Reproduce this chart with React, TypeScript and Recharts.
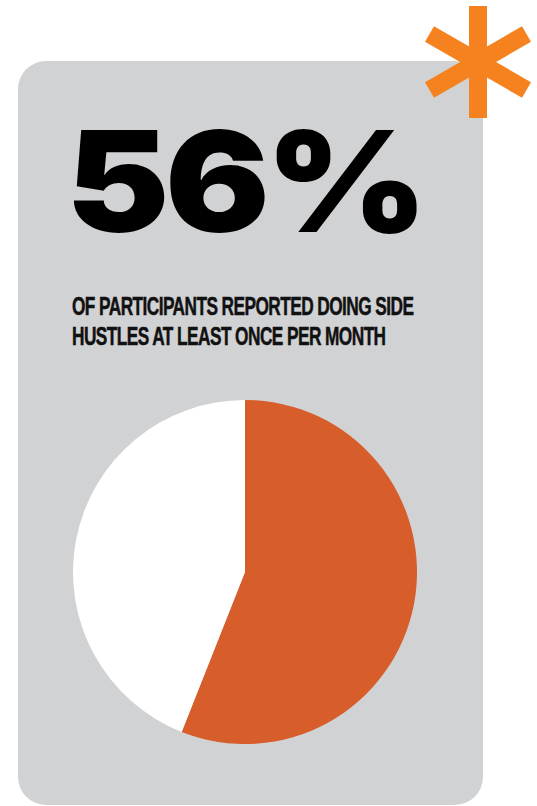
import { Cell, Pie, PieChart } from "recharts"

const sliceNames = ["Side hustles at least monthly", "Less often"]
const sliceValues = [56, 44]
const sliceColors = ["#D75D2B", "#FFFFFF"]

const headline = "56%"
const subtitleLines = ["OF PARTICIPANTS REPORTED DOING SIDE", "HUSTLES AT LEAST ONCE PER MONTH"]

const pieData = sliceNames.map((name, i) => ({ name, value: sliceValues[i] }))

function Asterisk() {
  // three crossed bars, drawn on top of the card corner
  const arms = [0, 60, -60]
  return (
    <svg width={120} height={120} style={{ position: "absolute", left: 418, top: 2 }}>
      <g transform="translate(60,60)">
        {arms.map((a) => (
          <rect key={a} x={-9} y={-56} width={18} height={112} fill="#F5821F" transform={`rotate(${a})`} />
        ))}
      </g>
    </svg>
  )
}

export default function App() {
  return (
    <div style={{ position: "fixed", left: 0, top: 0, width: 537, height: 806, background: "#fff", overflow: "hidden" }}>
      <div
        style={{
          position: "absolute",
          left: 18,
          top: 61,
          width: 465,
          height: 744,
          background: "#D1D2D4",
          borderRadius: 28,
        }}
      />
      <Asterisk />
      <div
        style={{
          position: "absolute",
          left: 66,
          top: 111,
          fontFamily: "Inter, 'DejaVu Sans', sans-serif",
          fontWeight: 900,
          fontSize: 140,
          lineHeight: "140px",
          letterSpacing: -4,
          color: "#000",
          whiteSpace: "nowrap",
          transform: "scaleX(1.11)",
          transformOrigin: "left top",
        }}
      >
        {headline}
      </div>
      <div
        style={{
          position: "absolute",
          left: 72,
          top: 291,
          fontFamily: "'Liberation Sans', Arial, sans-serif",
          fontWeight: 700,
          fontSize: 25,
          lineHeight: "30px",
          letterSpacing: -0.8,
          color: "#111",
          WebkitTextStroke: "0.5px #111",
          whiteSpace: "nowrap",
          transform: "scaleX(0.69)",
          transformOrigin: "left top",
        }}
      >
        {subtitleLines.map((l) => (
          <div key={l}>{l}</div>
        ))}
      </div>
      <div style={{ position: "absolute", left: 0, top: 0 }}>
        <PieChart width={537} height={806} margin={{ top: 0, right: 0, bottom: 0, left: 0 }}>
          <Pie
            data={pieData}
            dataKey="value"
            nameKey="name"
            cx={245}
            cy={572}
            outerRadius={172}
            startAngle={90}
            endAngle={-270}
            stroke="none"
            isAnimationActive={false}
          >
            {pieData.map((d, i) => (
              <Cell key={d.name} fill={sliceColors[i]} />
            ))}
          </Pie>
        </PieChart>
      </div>
    </div>
  )
}
